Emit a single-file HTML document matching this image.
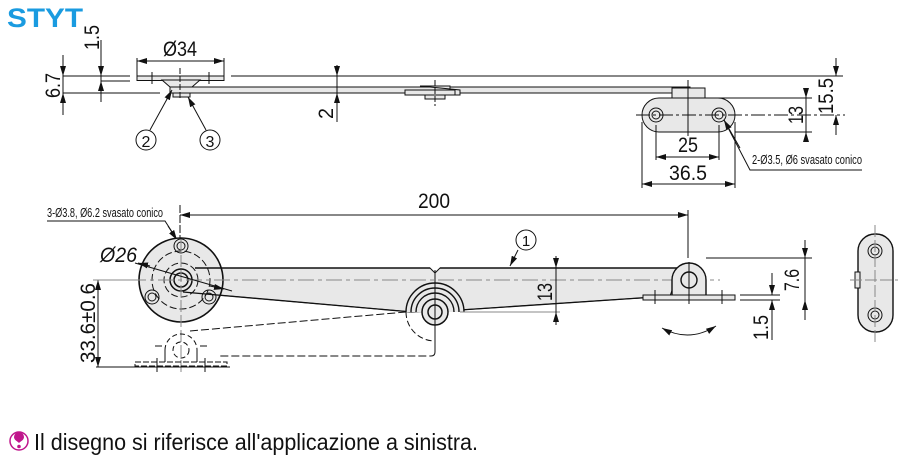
<!DOCTYPE html>
<html><head><meta charset="utf-8"><style>
html,body{margin:0;padding:0;background:#fff;width:924px;height:461px;overflow:hidden}
svg{display:block}
text{font-family:"Liberation Sans",sans-serif;fill:#111}
</style></head><body>
<svg width="924" height="461" viewBox="0 0 924 461" xmlns="http://www.w3.org/2000/svg">
<defs>
<marker id="a" viewBox="0 0 10 6" refX="10" refY="3" markerWidth="10" markerHeight="6" orient="auto-start-reverse" markerUnits="userSpaceOnUse"><path d="M0,0L10,3L0,6z" fill="#111"/></marker>
</defs>
<text x="7" y="27" font-size="27" font-weight="bold" style="fill:#1a9be0" textLength="76" lengthAdjust="spacingAndGlyphs">STYT</text>

<g stroke="#111" stroke-width="1" fill="none">
<!-- TOP VIEW -->
<line x1="63" y1="76" x2="130" y2="76"/>
<line x1="231" y1="76" x2="843" y2="76"/>
<line x1="63" y1="93" x2="160" y2="93"/>
<line x1="101" y1="81" x2="130" y2="81"/>
<line x1="63" y1="55" x2="63" y2="115"/>
<line x1="63" y1="60" x2="63" y2="76" marker-end="url(#a)"/>
<line x1="63" y1="110" x2="63" y2="93" marker-end="url(#a)"/>
<line x1="101" y1="40" x2="101" y2="102"/>
<line x1="101" y1="60" x2="101" y2="76" marker-end="url(#a)"/>
<line x1="101" y1="100" x2="101" y2="81" marker-end="url(#a)"/>
<line x1="137" y1="58" x2="137" y2="76"/>
<line x1="224" y1="58" x2="224" y2="76"/>
<line x1="137" y1="61" x2="224" y2="61" marker-start="url(#a)" marker-end="url(#a)"/>
<rect x="137" y="76" width="87" height="4.5" fill="#e8e8e8"/>
<path d="M162,80 L200,80 L192,87 L170,87 Z" fill="#e8e8e8"/>
<rect x="173" y="93" width="17" height="4" fill="#e8e8e8"/>
<rect x="170" y="87" width="520" height="6" fill="#e8e8e8"/>
<line x1="152" y1="72" x2="152" y2="84"/><line x1="209" y1="72" x2="209" y2="84"/>
<path d="M420,86 h30 v4 h-4 v5 h14 v-5 z" fill="#e8e8e8"/>
<rect x="405" y="90" width="50" height="5" fill="#e8e8e8"/>
<rect x="425" y="95" width="20" height="4" fill="#e8e8e8"/>
<line x1="435" y1="80" x2="435" y2="106" stroke-dasharray="6,2"/>
<line x1="180" y1="68" x2="180" y2="100" stroke-dasharray="6,2"/>
<line x1="337" y1="65" x2="337" y2="122"/>
<line x1="337" y1="66" x2="337" y2="76" marker-end="url(#a)"/>
<line x1="337" y1="110" x2="337" y2="93" marker-end="url(#a)"/>
<line x1="150" y1="130" x2="172" y2="90" marker-end="url(#a)"/>
<line x1="206" y1="130" x2="188" y2="97" marker-end="url(#a)"/>
<circle cx="146" cy="140" r="10"/><circle cx="210" cy="140" r="10"/>
<rect x="672" y="88" width="33" height="10" fill="#e8e8e8"/>
<rect x="680" y="98" width="17" height="4" fill="#e8e8e8"/>
<rect x="642" y="98" width="93" height="34" rx="17" fill="#e8e8e8"/>
<circle cx="656" cy="115" r="7"/><circle cx="656" cy="115" r="4"/>
<circle cx="719" cy="115" r="7"/><circle cx="719" cy="115" r="4"/>
<line x1="688" y1="80" x2="688" y2="136"/>
<line x1="636" y1="115" x2="845" y2="115" stroke-dasharray="14,3,3,3"/>
<line x1="705" y1="98" x2="812" y2="98"/>
<line x1="735" y1="132" x2="812" y2="132"/>
<line x1="806" y1="88" x2="806" y2="98" marker-end="url(#a)"/>
<line x1="806" y1="142" x2="806" y2="132" marker-end="url(#a)"/>
<line x1="806" y1="98" x2="806" y2="132"/>
<line x1="836" y1="58" x2="836" y2="76" marker-end="url(#a)"/>
<line x1="836" y1="135" x2="836" y2="115" marker-end="url(#a)"/>
<line x1="656" y1="125" x2="656" y2="160"/><line x1="719" y1="125" x2="719" y2="160"/>
<line x1="656" y1="157" x2="719" y2="157" marker-start="url(#a)" marker-end="url(#a)"/>
<line x1="642" y1="122" x2="642" y2="188"/><line x1="735" y1="122" x2="735" y2="188"/>
<line x1="642" y1="184" x2="735" y2="184" marker-start="url(#a)" marker-end="url(#a)"/>
<polyline points="862,170 750,170 724,120"/>
<line x1="740" y1="148" x2="724" y2="120" marker-end="url(#a)"/>

<!-- BOTTOM VIEW -->
<line x1="180" y1="205" x2="180" y2="245" stroke-dasharray="8,2"/>
<line x1="688" y1="210" x2="688" y2="258"/>
<line x1="180" y1="215" x2="688" y2="215" marker-start="url(#a)" marker-end="url(#a)"/>
<polyline points="47,221 165,221 176,238"/>
<line x1="168" y1="226" x2="177" y2="240" marker-end="url(#a)"/>
<path d="M180,268 L430,268 L435,273 L440,268 L680,268 L670,296 L460,310 L412,312 L183,292 Z" fill="#e8e8e8"/>
<circle cx="181" cy="280" r="42" fill="#e8e8e8" stroke-width="1.6"/>
<circle cx="181" cy="280" r="29" stroke-dasharray="7,3"/>
<circle cx="181" cy="280" r="17" stroke-dasharray="7,3"/>
<circle cx="181" cy="280" r="11" stroke-width="1.5"/><circle cx="181" cy="280" r="7" stroke-width="1.5"/>
<circle cx="181" cy="246" r="7"/><circle cx="181" cy="246" r="4"/>
<circle cx="152" cy="297" r="7"/><circle cx="152" cy="297" r="4"/>
<circle cx="209" cy="297" r="7"/><circle cx="209" cy="297" r="4"/>
<line x1="195" y1="268" x2="430" y2="268" stroke-width="1.6"/>
<line x1="440" y1="268" x2="680" y2="268" stroke-width="1.6"/>
<line x1="183" y1="292" x2="412" y2="312" stroke-width="1.3"/>
<line x1="460" y1="310" x2="670" y2="296" stroke-width="1.3"/>
<line x1="130" y1="280" x2="720" y2="280" stroke="#888" stroke-dasharray="16,4,4,4"/>
<line x1="181" y1="240" x2="181" y2="372" stroke="#888" stroke-dasharray="12,3"/>
<line x1="135" y1="263" x2="232" y2="291"/>
<line x1="150" y1="266" x2="138" y2="263" marker-end="url(#a)"/>
<line x1="210" y1="286" x2="224" y2="289" marker-end="url(#a)"/>
<path d="M406,312 A29,29 0 0 1 464,312" fill="#e8e8e8" stroke-width="1.4"/>
<path d="M411,312 A24,24 0 0 1 459,312" stroke-width="1.4"/>
<path d="M416,312 A19,19 0 0 1 454,312" stroke-width="1.4"/>
<circle cx="435" cy="312" r="13" fill="#e8e8e8" stroke-width="1.5"/>
<circle cx="435" cy="312" r="7" stroke-width="1.5"/>
<path d="M406,312 A29,29 0 0 0 435,341" stroke-dasharray="6,3"/>
<line x1="435" y1="270" x2="435" y2="352"/>
<path d="M435,352 q0,4 -4,4 H220" stroke-dasharray="8,3"/>
<line x1="190" y1="331" x2="406" y2="312" stroke-dasharray="8,3"/>
<path d="M165,350 A16,16 0 0 1 197,350" stroke-dasharray="5,3"/>
<circle cx="181" cy="350" r="8" stroke-dasharray="5,3"/>
<path d="M165,350 v12 M197,350 v12" />
<path d="M135,362 h92 v4 h-92 z" stroke-dasharray="6,2"/>
<line x1="157" y1="358" x2="157" y2="372"/><line x1="205" y1="358" x2="205" y2="372"/>
<line x1="155" y1="346" x2="162" y2="346"/><line x1="200" y1="346" x2="207" y2="346"/>
<path d="M672,296 V280 A17,17 0 0 1 706,280 V296 Z" fill="#e8e8e8" stroke-width="1.4"/>
<circle cx="689" cy="280" r="8" stroke-width="1.4"/>
<path d="M643,295 h92 v5 h-92 z" fill="#e8e8e8"/>
<line x1="689" y1="262" x2="689" y2="304"/>
<line x1="655" y1="290" x2="655" y2="304"/><line x1="722" y1="290" x2="722" y2="304"/>
<path d="M662,328 Q689,343 716,326" marker-start="url(#a)" marker-end="url(#a)"/>
<line x1="740" y1="295" x2="780" y2="295"/><line x1="740" y1="300" x2="780" y2="300"/>
<line x1="706" y1="258" x2="812" y2="258"/>
<line x1="772" y1="273" x2="772" y2="295" marker-end="url(#a)"/>
<line x1="772" y1="340" x2="772" y2="300" marker-end="url(#a)"/>
<line x1="805" y1="258" x2="805" y2="320"/>
<line x1="805" y1="240" x2="805" y2="258" marker-end="url(#a)"/>
<line x1="805" y1="318" x2="805" y2="300" marker-end="url(#a)"/>
<line x1="460" y1="312" x2="560" y2="312" stroke="#888"/>
<line x1="556" y1="256" x2="556" y2="325"/>
<line x1="556" y1="262" x2="556" y2="268" marker-end="url(#a)"/>
<line x1="556" y1="325" x2="556" y2="312" marker-end="url(#a)"/>
<line x1="518" y1="250" x2="510" y2="266" marker-end="url(#a)"/>
<circle cx="526" cy="240" r="10"/>
<line x1="96" y1="367" x2="230" y2="367"/>
<line x1="98" y1="280" x2="98" y2="367" marker-start="url(#a)" marker-end="url(#a)"/>
<line x1="93" y1="280" x2="140" y2="280" stroke="#888"/>
<rect x="858" y="234" width="35" height="98" rx="17" fill="#e8e8e8" stroke-width="1.4"/>
<circle cx="875" cy="251" r="7"/><circle cx="875" cy="251" r="4"/>
<circle cx="875" cy="315" r="7"/><circle cx="875" cy="315" r="4"/>
<rect x="855" y="272" width="5" height="16" fill="#e8e8e8"/>
<line x1="875" y1="225" x2="875" y2="342" stroke="#888" stroke-dasharray="12,3"/>
<line x1="850" y1="280" x2="898" y2="280" stroke="#888" stroke-dasharray="12,3"/>
</g>

<g font-size="21" lengthAdjust="spacingAndGlyphs">
<text x="163" y="56" textLength="34" lengthAdjust="spacingAndGlyphs">Ø34</text>
<text transform="translate(99,50) rotate(-90)" textLength="25" lengthAdjust="spacingAndGlyphs">1.5</text>
<text transform="translate(60,98) rotate(-90)" textLength="25" lengthAdjust="spacingAndGlyphs">6.7</text>
<text transform="translate(333,119) rotate(-90)" textLength="11" lengthAdjust="spacingAndGlyphs">2</text>
<text x="146" y="147" font-size="16" text-anchor="middle">2</text>
<text x="210" y="147" font-size="16" text-anchor="middle">3</text>
<text x="526" y="246" font-size="15" text-anchor="middle">1</text>
<text x="678" y="152" textLength="20" lengthAdjust="spacingAndGlyphs">25</text>
<text x="669" y="180" textLength="38" lengthAdjust="spacingAndGlyphs">36.5</text>
<text transform="translate(803,124) rotate(-90)" textLength="18" lengthAdjust="spacingAndGlyphs">13</text>
<text transform="translate(833,114) rotate(-90)" textLength="36" lengthAdjust="spacingAndGlyphs">15.5</text>
<text x="752" y="164" font-size="13" textLength="110" lengthAdjust="spacingAndGlyphs">2-Ø3.5, Ø6 svasato conico</text>
<text x="418" y="208" textLength="32" lengthAdjust="spacingAndGlyphs">200</text>
<text x="47" y="217" font-size="13" textLength="116" lengthAdjust="spacingAndGlyphs">3-Ø3.8, Ø6.2 svasato conico</text>
<text x="100" y="262" font-style="italic" textLength="37" lengthAdjust="spacingAndGlyphs">Ø26</text>
<text transform="translate(552,301) rotate(-90)" textLength="18" lengthAdjust="spacingAndGlyphs">13</text>
<text transform="translate(95,363) rotate(-90)" textLength="80" lengthAdjust="spacingAndGlyphs">33.6±0.6</text>
<text transform="translate(799,291) rotate(-90)" textLength="22" lengthAdjust="spacingAndGlyphs">7.6</text>
<text transform="translate(768,340) rotate(-90)" textLength="25" lengthAdjust="spacingAndGlyphs">1.5</text>
</g>

<circle cx="19" cy="441" r="9" fill="#fff" stroke="#c0168c" stroke-width="1.5"/>
<path d="M14,437 a5,5 0 0 1 10,0 c0,3 -3,4 -5,6 c-2,-2 -5,-3 -5,-6z" fill="#c0168c"/>
<circle cx="19" cy="446.5" r="1.8" fill="#c0168c"/>
<text x="34" y="450" font-size="23" textLength="444" lengthAdjust="spacingAndGlyphs">Il disegno si riferisce all'applicazione a sinistra.</text>
</svg>
</body></html>
